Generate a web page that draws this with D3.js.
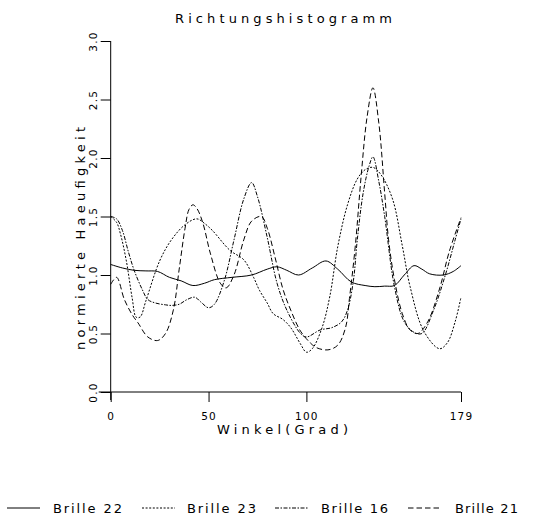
<!DOCTYPE html>
<html>
<head>
<meta charset="utf-8">
<script src="https://cdn.jsdelivr.net/npm/d3@7"></script>
<style>
  body { margin: 0; background: #fff; }
  svg { display: block; }
  text { font-family: "DejaVu Sans", sans-serif; fill: #000; }
</style>
</head>
<body>
<svg width="560" height="515"></svg>
<script>
// values: angle in degrees, normalised frequency
var angles22 = [0, 6, 12, 18, 24, 30, 36, 42, 48, 53, 62, 72, 80, 85, 90, 96, 103, 110, 116, 123, 130, 135, 140, 145, 150, 155, 159, 163, 170, 175, 179];
var brille22 = [1.09, 1.06, 1.04, 1.035, 1.03, 0.98, 0.95, 0.91, 0.93, 0.96, 0.98, 1.0, 1.05, 1.07, 1.04, 1.0, 1.06, 1.12, 1.05, 0.94, 0.91, 0.9, 0.905, 0.91, 1.0, 1.08, 1.05, 1.01, 1.0, 1.03, 1.08];

var angles23 = [0, 3, 5, 8, 11, 13, 15, 18, 25, 31, 38, 44, 48, 52, 61, 68, 73, 76, 80, 83, 88, 92, 97, 100, 103, 108, 112, 116, 121, 126, 130, 134, 138, 144, 149, 153, 160, 168, 172, 176, 179];
var brille23 = [1.5, 1.45, 1.35, 1.12, 0.8, 0.64, 0.64, 0.78, 1.12, 1.3, 1.43, 1.48, 1.44, 1.38, 1.21, 1.13, 0.98, 0.87, 0.76, 0.67, 0.62, 0.55, 0.41, 0.34, 0.37, 0.55, 0.82, 1.24, 1.6, 1.82, 1.9, 1.92, 1.86, 1.65, 1.25, 0.9, 0.52, 0.37, 0.42, 0.6, 0.81];

var angles16 = [0, 3, 6, 9, 12, 16, 19, 23, 28, 31, 35, 39, 43, 46, 50, 53, 58, 63, 68, 72, 75, 80, 85, 90, 97, 100, 107, 113, 118, 121, 124, 126, 129, 132, 134, 137, 140, 145, 150, 155, 159, 165, 171, 176, 179];
var brille16 = [1.5, 1.48, 1.38, 1.2, 1.04, 0.88, 0.79, 0.76, 0.745, 0.74, 0.75, 0.79, 0.81, 0.77, 0.72, 0.75, 0.95, 1.3, 1.65, 1.79, 1.67, 1.32, 0.93, 0.7, 0.5, 0.47, 0.53, 0.55, 0.6, 0.7, 0.95, 1.3, 1.7, 1.93, 2.01, 1.8, 1.5, 0.9, 0.6, 0.51, 0.5, 0.7, 1.0, 1.3, 1.48];

var angles21 = [0, 3, 7, 11, 14, 19, 24, 28, 32, 35, 38, 40, 42, 44, 47, 51, 56, 59, 63, 68, 72, 77, 80, 84, 88, 92, 97, 102, 105, 111, 116, 120, 122, 125, 128, 131, 134, 137, 140, 142, 145, 149, 153, 157, 162, 168, 173, 179];
var brille21 = [0.92, 0.98, 0.79, 0.66, 0.59, 0.47, 0.44, 0.5, 0.7, 1.05, 1.4, 1.56, 1.6, 1.57, 1.45, 1.18, 0.93, 0.89, 1.0, 1.3, 1.46, 1.5, 1.4, 1.15, 0.88, 0.7, 0.52, 0.42, 0.38, 0.36, 0.4, 0.55, 0.8, 1.25, 1.85, 2.35, 2.6, 2.3, 1.7, 1.3, 0.96, 0.67, 0.53, 0.5, 0.6, 0.88, 1.2, 1.49];

var seriesNames = ["Brille 22", "Brille 23", "Brille 16", "Brille 21"];
var xTicks = [0, 50, 100, 179];
var yTicks = [0, 0.5, 1.0, 1.5, 2.0, 2.5, 3.0];

var svg = d3.select("svg");

var x = d3.scaleLinear().domain([0, 179]).range([110.7, 461]);
var y = d3.scaleLinear().domain([0, 3]).range([392, 41]);

var dashes = ["none", "2,1.6", "4,1.5,1.5,1.5", "5.5,3"];

var series = [
  { name: seriesNames[0], a: angles22, v: brille22 },
  { name: seriesNames[1], a: angles23, v: brille23 },
  { name: seriesNames[2], a: angles16, v: brille16 },
  { name: seriesNames[3], a: angles21, v: brille21 }
];

// title
svg.append("text")
  .attr("x", 175).attr("y", 22.7)
  .attr("font-size", 13)
  .attr("textLength", 217).attr("lengthAdjust", "spacing")
  .text("Richtungshistogramm");

// axes
var gx = svg.append("g")
  .attr("transform", "translate(0," + y(0) + ")")
  .call(d3.axisBottom(x).tickValues(xTicks).tickSize(10).tickSizeOuter(0).tickFormat(d3.format("d")));
gx.select(".domain").remove();
gx.selectAll("line").attr("stroke", "#000");
gx.selectAll("text")
  .attr("y", 27.5).attr("dy", 0)
  .attr("font-size", 10.5)
  .attr("letter-spacing", 1.2)
  .attr("font-family", "DejaVu Sans");

var gy = svg.append("g")
  .attr("transform", "translate(" + x(0) + ",0)")
  .call(d3.axisLeft(y).tickValues(yTicks).tickSize(10).tickSizeOuter(0).tickFormat(d3.format(".1f")));
gy.select(".domain").remove();
gy.selectAll("line").attr("stroke", "#000");
gy.selectAll("text")
  .attr("x", 0).attr("dy", 0)
  .attr("text-anchor", "middle")
  .attr("transform", "translate(-14,0) rotate(-90)")
  .attr("font-size", 10.5)
  .attr("letter-spacing", 1.2)
  .attr("font-family", "DejaVu Sans");

// axis lines, a little longer than the data range like the original
svg.append("line")
  .attr("x1", x(0) - 12).attr("x2", x(179))
  .attr("y1", y(0)).attr("y2", y(0))
  .attr("stroke", "#000");
svg.append("line")
  .attr("x1", x(0)).attr("x2", x(0))
  .attr("y1", y(3)).attr("y2", y(0) + 8)
  .attr("stroke", "#000");

svg.append("text")
  .attr("x", 217).attr("y", 433.5)
  .attr("font-size", 13)
  .attr("textLength", 131).attr("lengthAdjust", "spacing")
  .text("Winkel(Grad)");

svg.append("text")
  .attr("transform", "translate(85,350) rotate(-90)")
  .attr("font-size", 13)
  .attr("textLength", 223).attr("lengthAdjust", "spacing")
  .text("normierte Haeufigkeit");

// curves
var line = d3.line()
  .x(function (d) { return x(d[0]); })
  .y(function (d) { return y(d[1]); })
  .curve(d3.curveCatmullRom.alpha(0.5));

svg.selectAll(".curve")
  .data(series)
  .enter().append("path")
  .attr("class", "curve")
  .attr("fill", "none")
  .attr("stroke", "#000")
  .attr("stroke-width", 1)
  .attr("stroke-dasharray", function (d, i) { return dashes[i]; })
  .attr("d", function (d) {
    return line(d.a.map(function (a, i) { return [a, d.v[i]]; }));
  });

// legend
var legX = [7, 142, 275, 408];
var legTextX = [53, 187, 321, 455];
var legTextW = [69, 69, 67, 63];
series.forEach(function (s, i) {
  svg.append("line")
    .attr("x1", legX[i]).attr("x2", legX[i] + 33)
    .attr("y1", 508).attr("y2", 508)
    .attr("stroke", "#000")
    .attr("stroke-dasharray", dashes[i]);
  svg.append("text")
    .attr("x", legTextX[i]).attr("y", 512.7)
    .attr("font-size", 13)
    .attr("textLength", legTextW[i]).attr("lengthAdjust", "spacing")
    .text(s.name);
});
</script>
</body>
</html>
